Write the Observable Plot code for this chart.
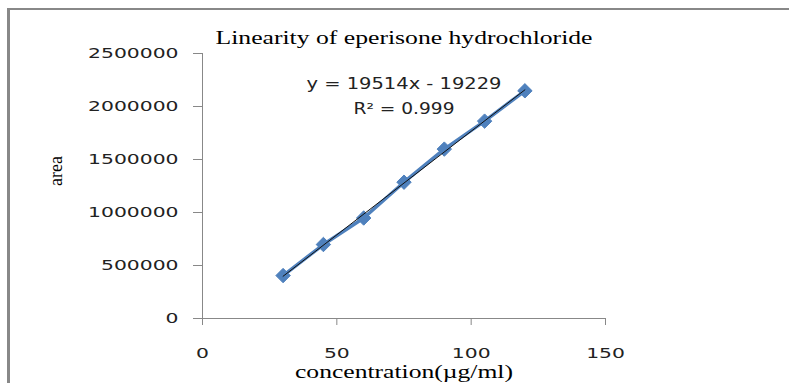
<!DOCTYPE html>
<html>
<head>
<meta charset="utf-8">
<script src="https://cdn.jsdelivr.net/npm/d3@7"></script>
<script src="https://cdn.jsdelivr.net/npm/@observablehq/plot@0.6"></script>
<style>
  html, body { margin: 0; padding: 0; background: #fff; }
  #wrap { position: relative; width: 789px; height: 383px; overflow: hidden; }
  #border { position: absolute; left: 7px; top: 8px; width: 800px; height: 400px;
            border-left: 3px solid #888; border-top: 2px solid #888; pointer-events: none; }
  #wrap svg { position: absolute; left: 0; top: 0; }
</style>
</head>
<body>
<div id="wrap"><div id="border"></div></div>
<script>
const concentration = [30, 45, 60, 75, 90, 105, 120];
const areaValues = [405000, 698000, 948000, 1286000, 1598000, 1862000, 2148000];
const xTicks = [0, 50, 100, 150];
const yTicks = [0, 500000, 1000000, 1500000, 2000000, 2500000];
const titleText = "Linearity of eperisone hydrochloride";
const xLabel = "concentration(µg/ml)";
const yLabel = "area";
const equationText = "y = 19514x - 19229";
const r2Text = "R\u00B2 = 0.999";

const data = concentration.map((c, i) => ({conc: c, area: areaValues[i]}));
const serif = "'Liberation Serif', 'Times New Roman', serif";
const sans = "'DejaVu Sans', Verdana, sans-serif";
const blue = "#4F81BD";

const chart = Plot.plot({
  width: 789,
  height: 383,
  marginLeft: 202,
  marginRight: 184,
  marginTop: 53,
  marginBottom: 65,
  style: {fontFamily: sans, fontSize: "14px", color: "#222", background: "transparent"},
  x: {domain: [0, 150], label: null},
  y: {domain: [0, 2500000], label: null},
  marks: [
    Plot.axisX({ticks: xTicks, tickSize: 7, tickPadding: 23, stroke: "#888", fill: "#222", label: null, tickFormat: d => String(d)}),
    Plot.axisY({ticks: yTicks, tickSize: 9, tickPadding: 15, stroke: "#888", fill: "#222", label: null, tickFormat: d => String(d)}),
    Plot.ruleX([0], {stroke: "#888"}),
    Plot.ruleY([0], {stroke: "#888"}),
    Plot.dot(data, {x: "conc", y: "area", symbol: "diamond2", r: 6.5, fill: blue, stroke: blue, strokeWidth: 1}),
    Plot.line(data, {x: "conc", y: "area", stroke: blue, strokeWidth: 3.5}),
    Plot.linearRegressionY(data, {x: "conc", y: "area", stroke: "#111", strokeWidth: 1, ci: 0}),
    Plot.text([titleText], {text: d => d, frameAnchor: "top", lineAnchor: "middle", dy: -16, fontFamily: serif, fontSize: 19, fill: "#000"}),
    Plot.text([equationText], {text: d => d, frameAnchor: "top", lineAnchor: "middle", dy: 31, fontFamily: sans, fontSize: 15.5, fill: "#222"}),
    Plot.text([r2Text], {text: d => d, frameAnchor: "top", lineAnchor: "middle", dy: 56, fontFamily: sans, fontSize: 15.5, fill: "#222"}),
    Plot.text([xLabel], {text: d => d, frameAnchor: "bottom", lineAnchor: "middle", dy: 53, fontFamily: serif, fontSize: 19, fill: "#000"}),
    Plot.text([yLabel], {text: d => d, frameAnchor: "left", dx: -146, rotate: -90, fontFamily: serif, fontSize: 18, fill: "#000"})
  ]
});
document.getElementById("wrap").appendChild(chart);

// Horizontal text stretch, as in the reference picture
const targetWidths = new Map([[titleText, 377], [equationText, 195], [r2Text, 101], [xLabel, 218]]);
const tickStretch = 1.45;
d3.select(chart).selectAll("text").each(function() {
  const t = this.textContent;
  if (t === yLabel) return;
  const w = this.getComputedTextLength();
  if (!w) return;
  const target = targetWidths.has(t) ? targetWidths.get(t) : w * tickStretch;
  this.setAttribute("textLength", target);
  this.setAttribute("lengthAdjust", "spacingAndGlyphs");
});
</script>
</body>
</html>
